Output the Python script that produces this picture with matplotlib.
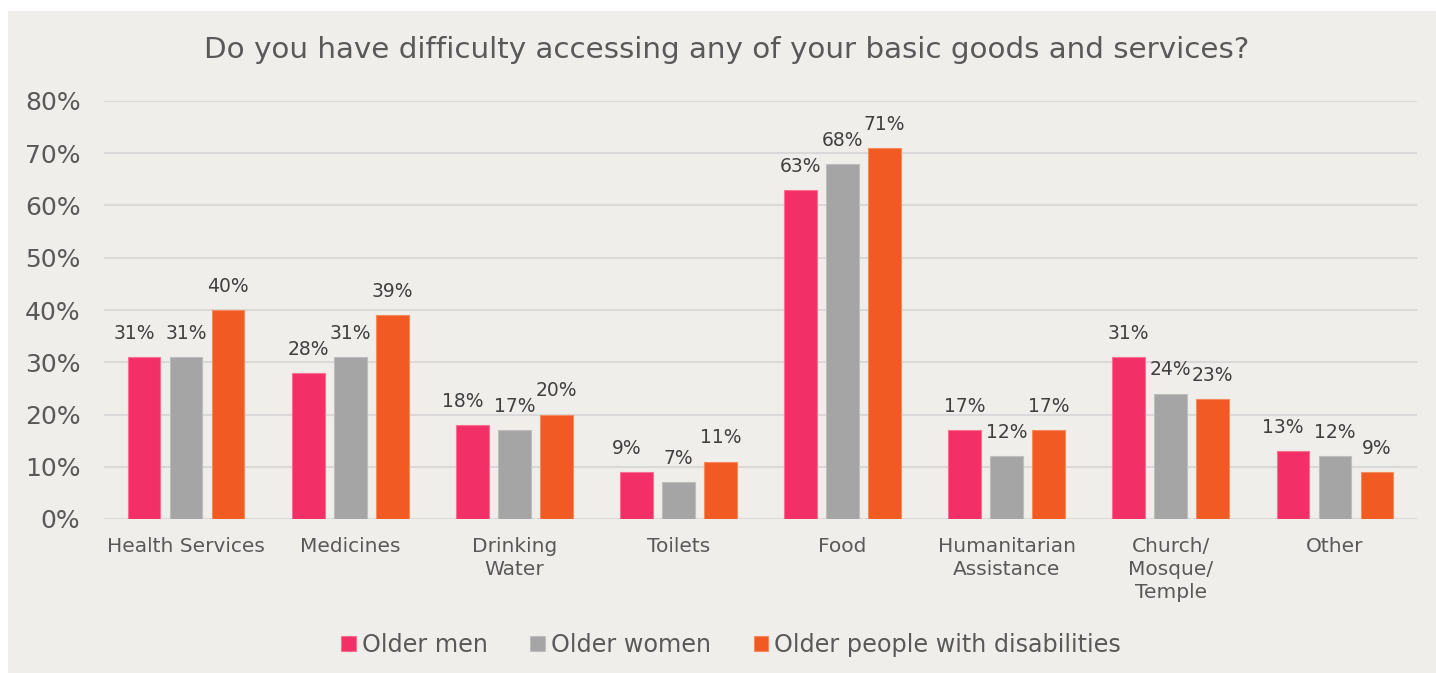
import numpy as np
import matplotlib.pyplot as plt
from matplotlib.patches import Rectangle
from matplotlib.ticker import FuncFormatter

categories = ['Health Services', 'Medicines', 'Drinking\nWater', 'Toilets', 'Food',
              'Humanitarian\nAssistance', 'Church/\nMosque/\nTemple', 'Other']
older_men = [31, 28, 18, 9, 63, 17, 31, 13]
older_women = [31, 31, 17, 7, 68, 12, 24, 12]
older_disabled = [40, 39, 20, 11, 71, 17, 23, 9]
series_names = ['Older men', 'Older women', 'Older people with disabilities']
series_colors = ['#F22F66', '#A5A5A5', '#F15A22']
edge_colors = ['#F7708F', '#BDBDBD', '#F58A5E']

W, H = 1436, 673
fig = plt.figure(figsize=(W / 100, H / 100), dpi=100, facecolor='white')

# light panel behind the chart
fig.patches.append(Rectangle((8 / W, 0), 1, 1 - 11 / H, transform=fig.transFigure,
                             facecolor='#EFEEEB', edgecolor='none', zorder=-1))

ax = fig.add_axes([104 / W, 1 - 519 / H, (1417 - 104) / W, (519 - 101) / H])
ax.set_facecolor('none')

x = np.arange(len(categories))
width = 0.2
step = 0.256
all_series = [older_men, older_women, older_disabled]
for i, (vals, name) in enumerate(zip(all_series, series_names)):
    pos = x + (i - 1) * step
    ax.bar(pos, vals, width, color=series_colors[i], edgecolor=edge_colors[i],
           linewidth=0.8, label=name, zorder=3)
    for j, (xp, v) in enumerate(zip(pos, vals)):
        # nudge the first label left when it would touch its neighbour
        dx = -0.06 if i == 0 and abs(v - older_women[j]) <= 2 else 0
        ax.text(xp + dx, v + 2.7, f'{v}%', ha='center', va='bottom', fontsize=13.5,
                color='#404040')

ax.set_xlim(-0.5, len(categories) - 0.5)
ax.set_ylim(0, 80)
ax.set_yticks(range(0, 81, 10))
ax.yaxis.set_major_formatter(FuncFormatter(lambda v, p: f'{int(v)}%'))
ax.set_xticks(x)
ax.set_xticklabels(categories, fontsize=14.5, color='#595959', linespacing=1.28)
ax.tick_params(axis='y', labelsize=18, colors='#595959', length=0, pad=17)
ax.tick_params(axis='x', length=0, pad=13)
ax.grid(axis='y', color='#D9D9D9', linewidth=1.5, zorder=0)
for s in ax.spines.values():
    s.set_visible(False)

fig.text(727 / W, 1 - 50 / H, 'Do you have difficulty accessing any of your basic goods and services?',
         ha='center', va='center', fontsize=21.2, color='#595959')

fig.legend(loc='center', bbox_to_anchor=(731 / W, 1 - 645 / H), ncol=3, frameon=False,
           fontsize=17.2, labelcolor='#595959', handlelength=0.6, handleheight=0.6,
           handletextpad=0.25, columnspacing=1.8)

fig.savefig('out.png', dpi=100, facecolor='white')
